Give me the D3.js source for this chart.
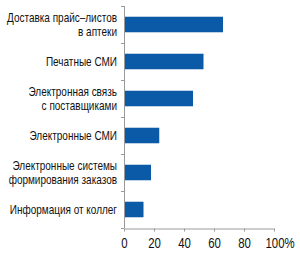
<!DOCTYPE html>
<html>
<head>
<meta charset="utf-8">
<script src="https://cdn.jsdelivr.net/npm/d3@7"></script>
<style>
  body { margin: 0; background: #fff; }
  svg { display: block; }
  .cat { font-family: "Liberation Sans", Arial, sans-serif; font-size: 12.5px; fill: #111; }
  .tick-label { font-family: "Liberation Sans", Arial, sans-serif; font-size: 15px; fill: #111; }
</style>
</head>
<body>
<div id="root"></div>
<script>
// categories top to bottom, each label split into lines
const categories = [
  ['Доставка прайс–листов', 'в аптеки'],
  ['Печатные СМИ'],
  ['Электронная связь', 'с поставщиками'],
  ['Электронные СМИ'],
  ['Электронные системы', 'формирования заказов'],
  ['Информация от коллег']
];
const values = [66, 53, 46, 23.5, 18, 13];
const xTicks = [0, 20, 40, 60, 80, 100];

const width = 300;
const height = 254;
const plot = { left: 124, right: 274, top: 6, bottom: 228 };
// the original uses a narrow font; squeeze the regular one instead
const catSqueeze = 0.8;
const tickSqueeze = 0.76;

const svg = d3.select('#root')
  .append('svg')
  .attr('width', width)
  .attr('height', height);

const x = d3.scaleLinear().domain([0, 100]).range([plot.left, plot.right]);
const y = d3.scaleBand()
  .domain(d3.range(categories.length))
  .range([plot.top, plot.bottom])
  .paddingInner(0.58)
  .paddingOuter(0.29);

const axisColor = '#9a9a9a';

// bars
svg.append('g')
  .selectAll('rect')
  .data(values)
  .join('rect')
  .attr('x', x(0))
  .attr('y', (d, i) => y(i))
  .attr('width', d => x(d) - x(0))
  .attr('height', y.bandwidth())
  .attr('fill', '#0b5aa8');

// y axis line and category separator ticks
const step = (plot.bottom - plot.top) / categories.length;
svg.append('line')
  .attr('x1', plot.left + 0.5).attr('x2', plot.left + 0.5)
  .attr('y1', plot.top).attr('y2', plot.bottom)
  .attr('stroke', axisColor);
svg.append('g')
  .selectAll('line')
  .data(d3.range(categories.length + 1))
  .join('line')
  .attr('x1', plot.left - 3).attr('x2', plot.left)
  .attr('y1', i => Math.round(plot.top + i * step) + 0.5)
  .attr('y2', i => Math.round(plot.top + i * step) + 0.5)
  .attr('stroke', axisColor);

// x axis
const xAxis = svg.append('g')
  .attr('transform', `translate(0, ${plot.bottom + 0.5})`)
  .call(d3.axisBottom(x).tickValues(xTicks).tickSize(3).tickSizeOuter(0)
    .tickFormat(d => d === 100 ? '100%' : d));
xAxis.select('.domain').attr('stroke', axisColor);
xAxis.selectAll('.tick line').attr('stroke', axisColor);
xAxis.selectAll('.tick text')
  .attr('class', 'tick-label')
  .attr('font-family', null)
  .attr('font-size', null)
  .attr('fill', null)
  .attr('dy', null)
  .attr('y', 20)
  .attr('transform', `scale(${tickSqueeze},1)`)
  .attr('text-anchor', d => d === 100 ? 'start' : 'middle')
  .attr('x', d => d === 100 ? -9 / tickSqueeze : 0);

// category labels
const lineH = 14;
const labelX = plot.left - 7;
const labels = svg.append('g')
  .attr('transform', `translate(${labelX},0) scale(${catSqueeze},1)`)
  .selectAll('text')
  .data(categories)
  .join('text')
  .attr('class', 'cat')
  .attr('text-anchor', 'end')
  .attr('x', 0)
  .attr('y', (d, i) => y(i) + y.bandwidth() / 2 - (d.length - 1) * lineH / 2 + 4.5);
labels.selectAll('tspan')
  .data(d => d)
  .join('tspan')
  .attr('x', 0)
  .attr('dy', (d, j) => j === 0 ? 0 : lineH)
  .text(d => d);
</script>
</body>
</html>
